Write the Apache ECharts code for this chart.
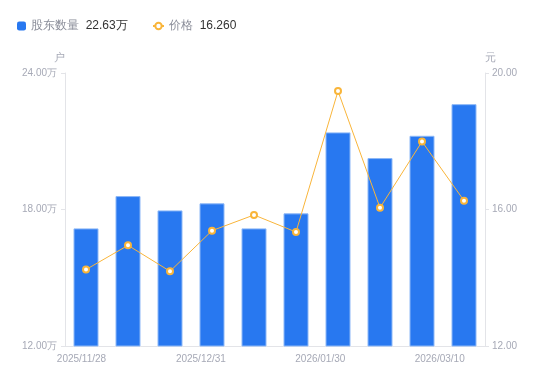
<!DOCTYPE html>
<html><head><meta charset="utf-8">
<script src="https://cdn.jsdelivr.net/npm/echarts@6/dist/echarts.min.js"></script>
<style>html,body{margin:0;padding:0;background:#fff}#c{width:550px;height:381px}</style>
</head><body><div id="c"></div>
<script>
const categories = ['2025/11/28','2025/12/08','2025/12/19','2025/12/31','2026/01/09','2026/01/20','2026/01/30','2026/02/13','2026/02/27','2026/03/10'];
const holders = [17.17, 18.59, 17.96, 18.27, 17.17, 17.83, 21.39, 20.26, 21.24, 22.63];
const prices = [14.24, 14.95, 14.19, 15.38, 15.84, 15.34, 19.47, 16.05, 17.99, 16.26];
const leftTicks = {min: 12, max: 24, interval: 6};
const rightTicks = {min: 12, max: 20, interval: 4};

const BLUE = '#2878F0', ORANGE = '#F9B53A', LABEL = '#A6A9B6', AXIS = '#E3E4E8';
const chart = echarts.init(document.getElementById('c'), null, {renderer: 'canvas'});
const lastH = holders[holders.length - 1].toFixed(2) + '万';
const lastP = prices[prices.length - 1].toFixed(3);
const fmt = function (n) { return '{a|' + n + '}  {b|' + (n === '股东数量' ? lastH : lastP) + '}'; };
const legendText = {rich: {a: {color: '#8A8D99', fontSize: 12}, b: {color: '#333', fontSize: 12}}};
chart.setOption({
  animation: false,
  legend: [
    {left: 17, top: 20, padding: 0, itemWidth: 9, itemHeight: 9,
     data: [{name: '股东数量', icon: 'roundRect', itemStyle: {borderWidth: 0}}],
     formatter: fmt, textStyle: legendText},
    {left: 152, top: 20, padding: 0, itemWidth: 11, itemHeight: 8,
     data: [{name: '价格'}],
     formatter: fmt, textStyle: legendText}
  ],
  grid: [
    {left: 65, right: 65, top: 73, bottom: 35},
    {left: 61.6, right: 90.4, top: 73, bottom: 35}
  ],
  xAxis: [
    {type: 'category', data: categories, gridIndex: 0,
     axisLine: {lineStyle: {color: AXIS}}, axisTick: {show: false}, axisLabel: {show: false}},
    {type: 'category', data: categories, gridIndex: 1,
     axisLine: {show: false}, axisTick: {show: false},
     axisLabel: {interval: 2, color: LABEL, fontSize: 10, margin: 8}}
  ],
  yAxis: [
    {type: 'value', gridIndex: 0, min: leftTicks.min, max: leftTicks.max, interval: leftTicks.interval,
     name: '户', nameGap: 10, nameTextStyle: {color: LABEL, fontSize: 11, align: 'right'},
     axisLine: {show: true, lineStyle: {color: AXIS}}, axisTick: {show: true, length: 4, lineStyle: {color: AXIS}},
     splitLine: {show: false},
     axisLabel: {color: LABEL, fontSize: 10, margin: 8, formatter: v => v.toFixed(2) + '万'}},
    {type: 'value', gridIndex: 0, position: 'right', min: rightTicks.min, max: rightTicks.max, interval: rightTicks.interval,
     name: '元', nameGap: 10, nameTextStyle: {color: LABEL, fontSize: 11, align: 'left'},
     axisLine: {show: true, lineStyle: {color: AXIS}}, axisTick: {show: true, length: 4, lineStyle: {color: AXIS}},
     splitLine: {show: false},
     axisLabel: {color: LABEL, fontSize: 10, margin: 7, formatter: v => v.toFixed(2)}},
    {type: 'value', gridIndex: 1, show: false}
  ],
  series: [
    {name: '股东数量', type: 'bar', data: holders, xAxisIndex: 0, yAxisIndex: 0, barWidth: 25,
     itemStyle: {color: BLUE, borderColor: '#8DB8F7', borderWidth: 1}},
    {name: '价格', type: 'line', data: prices, xAxisIndex: 0, yAxisIndex: 1,
     symbol: 'circle', symbolSize: 6, lineStyle: {color: ORANGE, width: 1},
     itemStyle: {color: '#fff', borderColor: ORANGE, borderWidth: 2}}
  ]
});
</script></body></html>
